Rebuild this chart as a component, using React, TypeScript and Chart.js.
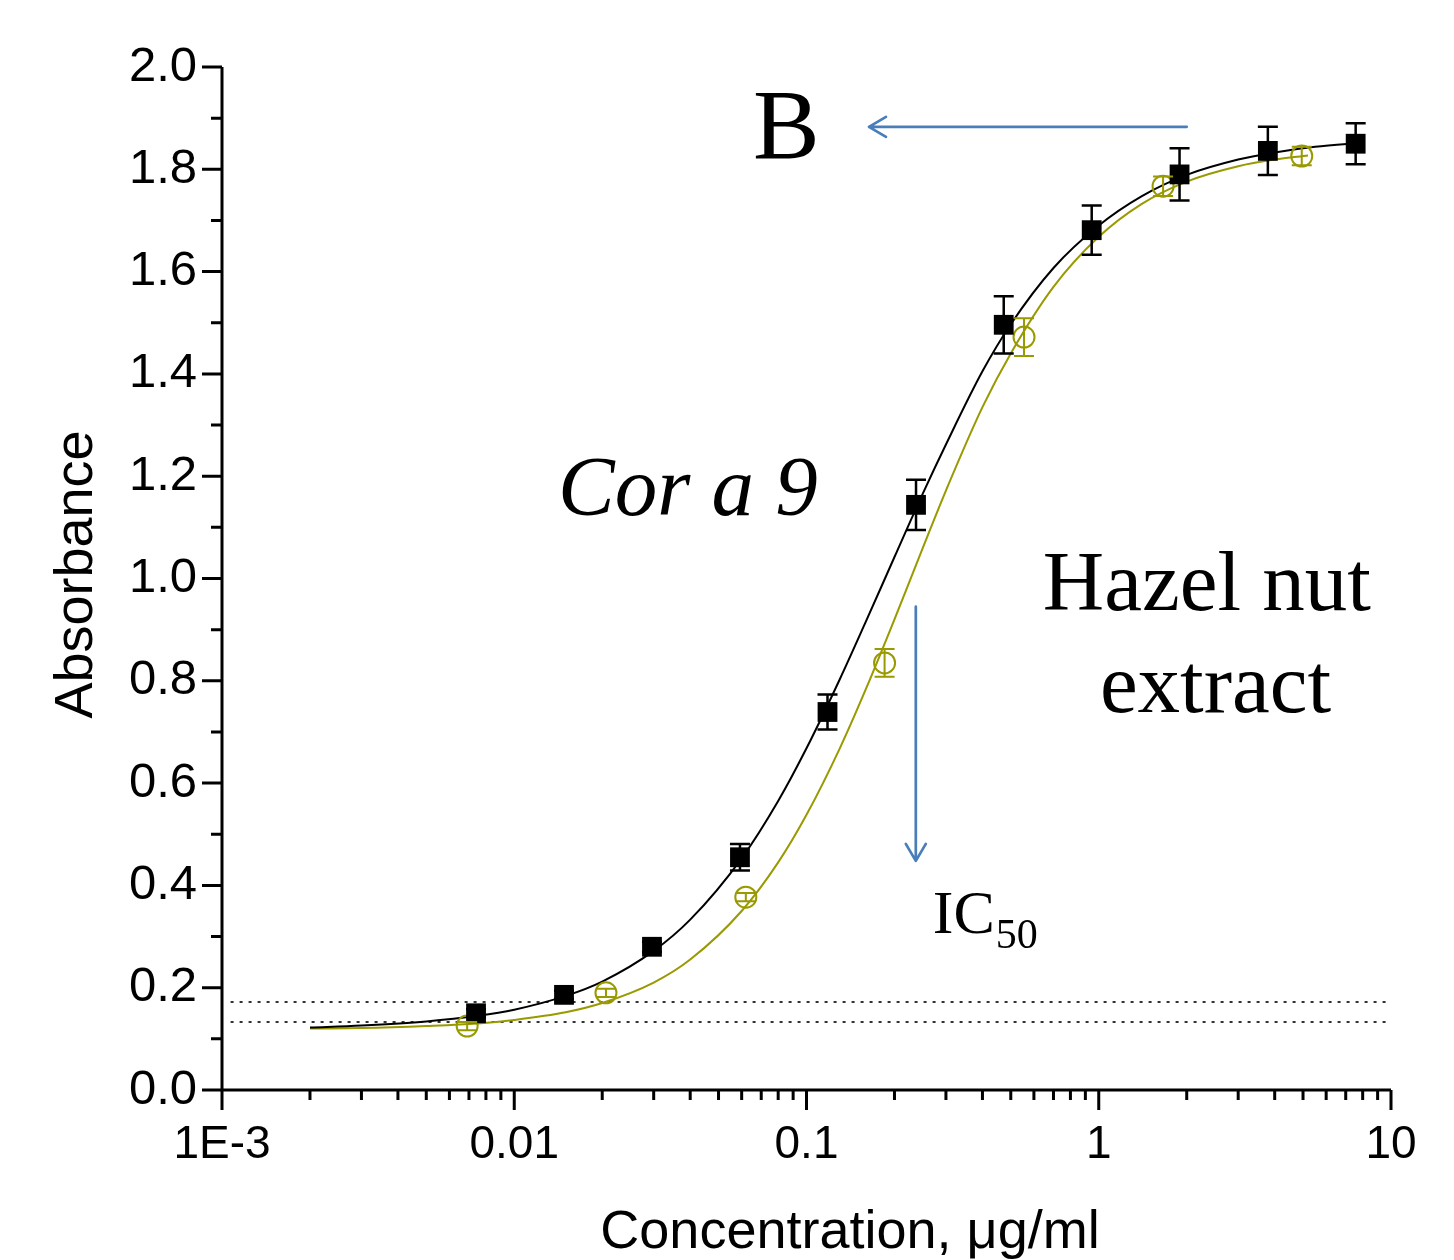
import React, { useEffect, useRef } from 'react';
import { Chart, registerables } from 'chart.js';

Chart.register(...registerables);

// ---------- axes ----------
const X_TICKS = [0.001, 0.01, 0.1, 1, 10];
const X_TICK_LABELS = ['1E-3', '0.01', '0.1', '1', '10'];
const X_MINOR_MULTIPLIERS = [2, 3, 4, 5, 6, 7, 8, 9];
const Y_TICKS = [0, 0.2, 0.4, 0.6, 0.8, 1.0, 1.2, 1.4, 1.6, 1.8, 2.0];
const Y_MINOR_TICKS = [0.1, 0.3, 0.5, 0.7, 0.9, 1.1, 1.3, 1.5, 1.7, 1.9];
const X_TITLE = 'Concentration, \u03BCg/ml';
const Y_TITLE = 'Absorbance';

// ---------- Cor a 9 (black squares) ----------
const CORA9_CONC = [0.0074, 0.0148, 0.0296, 0.0592, 0.118, 0.237, 0.473, 0.946, 1.89, 3.79, 7.57];
const CORA9_ABS = [0.150, 0.186, 0.280, 0.455, 0.739, 1.144, 1.496, 1.681, 1.790, 1.836, 1.850];
const CORA9_ERR = [0.008, 0.008, 0.010, 0.026, 0.034, 0.049, 0.056, 0.048, 0.051, 0.047, 0.040];
const CORA9_FIT_CONC = [0.002, 0.003, 0.005, 0.0075, 0.01, 0.015, 0.02, 0.03, 0.04, 0.06, 0.08, 0.1, 0.13, 0.16, 0.2, 0.25, 0.3, 0.4, 0.5, 0.7, 1, 1.4, 2, 3, 4, 5.5, 8];
const CORA9_FIT_ABS = [0.122, 0.126, 0.134, 0.145, 0.157, 0.184, 0.212, 0.272, 0.333, 0.453, 0.565, 0.668, 0.803, 0.917, 1.042, 1.166, 1.262, 1.405, 1.497, 1.607, 1.690, 1.747, 1.789, 1.819, 1.833, 1.844, 1.852];

// ---------- Hazel nut extract (olive circles) ----------
const HAZEL_CONC = [0.0069, 0.0206, 0.062, 0.185, 0.555, 1.66, 4.95];
const HAZEL_ABS = [0.125, 0.190, 0.377, 0.835, 1.472, 1.767, 1.826];
const HAZEL_ERR = [0.008, 0.008, 0.008, 0.027, 0.037, 0.019, 0.018];
const HAZEL_FIT_CONC = [0.002, 0.003, 0.005, 0.0075, 0.01, 0.015, 0.02, 0.03, 0.04, 0.06, 0.08, 0.1, 0.13, 0.16, 0.2, 0.25, 0.3, 0.4, 0.5, 0.7, 1, 1.4, 2, 3, 4, 5.2];
const HAZEL_FIT_ABS = [0.120, 0.121, 0.125, 0.130, 0.137, 0.152, 0.170, 0.210, 0.255, 0.350, 0.445, 0.538, 0.668, 0.785, 0.920, 1.060, 1.172, 1.335, 1.440, 1.570, 1.668, 1.732, 1.776, 1.806, 1.819, 1.827];

// ---------- reference (dotted) lines ----------
const DOTTED_LEVELS = [0.172, 0.133];
const DOTTED_X_RANGE = [0.00107, 9.8];

// ---------- annotations ----------
const ARROW_B_X = [2.0, 0.1636];      // from -> to (tip)
const ARROW_B_Y = 1.883;
const ARROW_IC_X = 0.2366;
const ARROW_IC_Y = [0.945, 0.448];    // from -> to (tip)
const LABEL_B = { text: 'B', x: 0.0853, y: 1.822 };
const LABEL_CORA9 = { text: 'Cor a 9', x: 0.01412, y: 1.124 };
const LABEL_HAZEL1 = { text: 'Hazel nut', x: 0.6438, y: 0.938 };
const LABEL_HAZEL2 = { text: 'extract', x: 1.009, y: 0.739 };
const LABEL_IC = { text: 'IC', sub: '50', x: 0.2705, y: 0.307 };

const OLIVE = '#999900';
const BLUE = '#4a7ebb';
const SANS = '"Liberation Sans", Arial, sans-serif';
const SERIF = '"Liberation Serif", "Times New Roman", serif';

const pts = (xs: number[], ys: number[]) => xs.map((x, i) => ({ x, y: ys[i] }));

const overlayPlugin = {
  id: 'overlay',
  afterDatasetsDraw(chart: any) {
    const { ctx, scales } = chart;
    const xs = scales.x;
    const ys = scales.y;
    const drawErr = (cx: number[], cy: number[], ce: number[], color: string, lw: number, cap: number) => {
      ctx.save();
      ctx.strokeStyle = color;
      ctx.lineWidth = lw;
      cx.forEach((xv, i) => {
        const px = xs.getPixelForValue(xv);
        const top = ys.getPixelForValue(cy[i] + ce[i]);
        const bot = ys.getPixelForValue(cy[i] - ce[i]);
        ctx.beginPath();
        ctx.moveTo(px, top);
        ctx.lineTo(px, bot);
        ctx.moveTo(px - cap, top);
        ctx.lineTo(px + cap, top);
        ctx.moveTo(px - cap, bot);
        ctx.lineTo(px + cap, bot);
        ctx.stroke();
      });
      ctx.restore();
    };
    drawErr(CORA9_CONC, CORA9_ABS, CORA9_ERR, '#000', 2.5, 10);
    drawErr(HAZEL_CONC, HAZEL_ABS, HAZEL_ERR, OLIVE, 2, 10);
  },
  afterDraw(chart: any) {
    const { ctx, scales, chartArea } = chart;
    const xs = scales.x;
    const ys = scales.y;
    const L = chartArea.left;
    const B = chartArea.bottom;
    ctx.save();
    // axis lines
    ctx.strokeStyle = '#000';
    ctx.lineWidth = 3;
    ctx.lineCap = 'butt';
    ctx.beginPath();
    ctx.moveTo(L, chartArea.top);
    ctx.lineTo(L, B);
    ctx.lineTo(chartArea.right, B);
    ctx.stroke();
    // y ticks
    ctx.beginPath();
    Y_TICKS.forEach((v) => {
      const py = ys.getPixelForValue(v);
      ctx.moveTo(L - 20, py);
      ctx.lineTo(L, py);
    });
    Y_MINOR_TICKS.forEach((v) => {
      const py = ys.getPixelForValue(v);
      ctx.moveTo(L - 11, py);
      ctx.lineTo(L, py);
    });
    // x ticks
    X_TICKS.forEach((v, i) => {
      const px = xs.getPixelForValue(v);
      ctx.moveTo(px, B);
      ctx.lineTo(px, B + 20);
      if (i < X_TICKS.length - 1) {
        X_MINOR_MULTIPLIERS.forEach((m) => {
          const mx = xs.getPixelForValue(v * m);
          ctx.moveTo(mx, B);
          ctx.lineTo(mx, B + 10);
        });
      }
    });
    ctx.stroke();

    // axis titles
    ctx.fillStyle = '#000';
    ctx.font = `54px ${SANS}`;
    ctx.textAlign = 'center';
    ctx.textBaseline = 'alphabetic';
    ctx.fillText(X_TITLE, L + 628, 1248);
    ctx.save();
    ctx.translate(L - 130, (chartArea.top + B) / 2 - 4);
    ctx.rotate(-Math.PI / 2);
    ctx.fillText(Y_TITLE, 0, 0);
    ctx.restore();

    // arrows
    ctx.strokeStyle = BLUE;
    ctx.lineWidth = 2.7;
    ctx.lineCap = 'round';
    ctx.lineJoin = 'round';
    const bx0 = xs.getPixelForValue(ARROW_B_X[0]);
    const bx1 = xs.getPixelForValue(ARROW_B_X[1]);
    const by = ys.getPixelForValue(ARROW_B_Y);
    ctx.beginPath();
    ctx.moveTo(bx0, by);
    ctx.lineTo(bx1, by);
    ctx.moveTo(bx1 + 17, by - 10);
    ctx.lineTo(bx1, by);
    ctx.lineTo(bx1 + 17, by + 10);
    ctx.stroke();
    const ix = xs.getPixelForValue(ARROW_IC_X);
    const iy0 = ys.getPixelForValue(ARROW_IC_Y[0]);
    const iy1 = ys.getPixelForValue(ARROW_IC_Y[1]);
    ctx.beginPath();
    ctx.moveTo(ix, iy0);
    ctx.lineTo(ix, iy1);
    ctx.moveTo(ix - 10, iy1 - 17);
    ctx.lineTo(ix, iy1);
    ctx.lineTo(ix + 10, iy1 - 17);
    ctx.stroke();

    // text annotations
    ctx.fillStyle = '#000';
    ctx.textBaseline = 'alphabetic';
    ctx.textAlign = 'center';
    ctx.font = `100px ${SERIF}`;
    ctx.fillText(LABEL_B.text, xs.getPixelForValue(LABEL_B.x), ys.getPixelForValue(LABEL_B.y));
    ctx.textAlign = 'left';
    ctx.font = `italic 85px ${SERIF}`;
    ctx.fillText(LABEL_CORA9.text, xs.getPixelForValue(LABEL_CORA9.x), ys.getPixelForValue(LABEL_CORA9.y));
    ctx.font = `85px ${SERIF}`;
    ctx.fillText(LABEL_HAZEL1.text, xs.getPixelForValue(LABEL_HAZEL1.x), ys.getPixelForValue(LABEL_HAZEL1.y));
    ctx.fillText(LABEL_HAZEL2.text, xs.getPixelForValue(LABEL_HAZEL2.x), ys.getPixelForValue(LABEL_HAZEL2.y));
    ctx.font = `62px ${SERIF}`;
    const icx = xs.getPixelForValue(LABEL_IC.x);
    const icy = ys.getPixelForValue(LABEL_IC.y);
    ctx.fillText(LABEL_IC.text, icx, icy);
    const w = ctx.measureText(LABEL_IC.text).width;
    ctx.font = `42px ${SERIF}`;
    ctx.fillText(LABEL_IC.sub, icx + w + 1, icy + 15);
    ctx.restore();
  },
};

export default function App() {
  const ref = useRef<HTMLCanvasElement>(null);
  useEffect(() => {
    const canvas = ref.current;
    if (!canvas) return;
    const datasets: any[] = [
      {
        label: 'Cor a 9',
        data: pts(CORA9_CONC, CORA9_ABS),
        showLine: false,
        pointStyle: 'rect',
        pointRadius: 14,
        backgroundColor: '#000',
        borderColor: '#000',
        borderWidth: 0,
        order: 0,
      },
      {
        label: 'Hazel nut extract',
        data: pts(HAZEL_CONC, HAZEL_ABS),
        showLine: false,
        pointStyle: 'circle',
        pointRadius: 10.5,
        backgroundColor: 'rgba(0,0,0,0)',
        borderColor: OLIVE,
        borderWidth: 2,
        order: 0,
      },
      {
        label: 'Cor a 9 fit',
        data: pts(CORA9_FIT_CONC, CORA9_FIT_ABS),
        showLine: true,
        borderColor: '#000',
        borderWidth: 2,
        pointRadius: 0,
        cubicInterpolationMode: 'monotone',
        fill: false,
        order: 1,
      },
      {
        label: 'Hazel fit',
        data: pts(HAZEL_FIT_CONC, HAZEL_FIT_ABS),
        showLine: true,
        borderColor: OLIVE,
        borderWidth: 2,
        pointRadius: 0,
        cubicInterpolationMode: 'monotone',
        fill: false,
        order: 1,
      },
      ...DOTTED_LEVELS.map((lv) => ({
        label: 'level',
        data: DOTTED_X_RANGE.map((x) => ({ x, y: lv })),
        showLine: true,
        borderColor: '#333',
        borderWidth: 2,
        borderDash: [3, 6],
        pointRadius: 0,
        fill: false,
        order: 2,
      })),
    ];
    const chart = new Chart(canvas, {
      type: 'scatter',
      data: { datasets },
      options: {
        animation: false,
        responsive: false,
        maintainAspectRatio: false,
        devicePixelRatio: 1,
        layout: { padding: { left: 0, top: 67, right: 63, bottom: 0 } },
        plugins: { legend: { display: false }, tooltip: { enabled: false }, title: { display: false } },
        scales: {
          x: {
            type: 'logarithmic',
            min: 0.001,
            max: 10,
            afterBuildTicks: (s: any) => {
              s.ticks = X_TICKS.map((v) => ({ value: v }));
            },
            afterFit: (s: any) => {
              s.height = 170;
            },
            grid: { display: false, drawTicks: false },
            border: { display: false },
            ticks: {
              autoSkip: false,
              maxRotation: 0,
              padding: 28,
              color: '#000',
              font: { family: SANS, size: 46 },
              callback: (_v: any, i: number) => X_TICK_LABELS[i],
            },
          },
          y: {
            type: 'linear',
            min: 0,
            max: 2,
            afterBuildTicks: (s: any) => {
              s.ticks = Y_TICKS.map((v) => ({ value: v }));
            },
            afterFit: (s: any) => {
              s.width = 222;
            },
            grid: { display: false, drawTicks: false },
            border: { display: false },
            ticks: {
              autoSkip: false,
              padding: 25,
              color: '#000',
              font: { family: SANS, size: 49 },
              callback: (v: any) => Number(v).toFixed(1),
            },
          },
        },
      } as any,
      plugins: [overlayPlugin],
    });
    return () => chart.destroy();
  }, []);
  return (
    <div style={{ position: 'fixed', left: 0, top: 0, width: 1454, height: 1260, background: '#fff' }}>
      <canvas ref={ref} width={1454} height={1260} style={{ display: 'block', width: 1454, height: 1260 }} />
    </div>
  );
}
